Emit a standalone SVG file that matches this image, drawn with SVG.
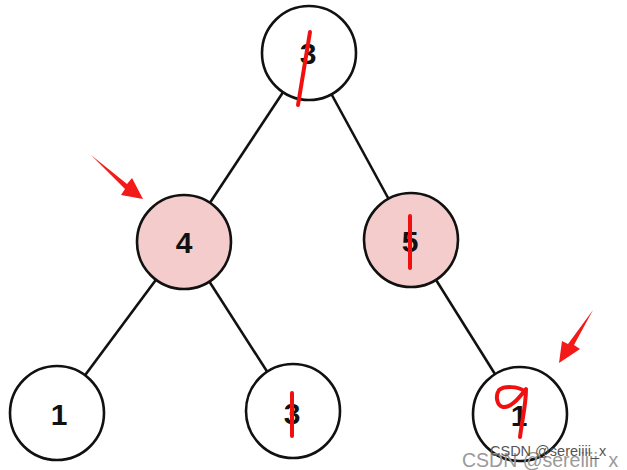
<svg xmlns="http://www.w3.org/2000/svg" width="627" height="470" viewBox="0 0 627 470">
<style>
.edge{stroke:#111;stroke-width:2.6;fill:none}
.node{stroke:#111;stroke-width:2.6;fill:#fff}
.hl{fill:#f4cccc}
.lbl{font-family:"Liberation Sans",Arial,sans-serif;font-weight:bold;font-size:30px;fill:#111;text-anchor:middle}
.red{stroke:#f01010;stroke-width:4;stroke-linecap:round;stroke-linejoin:round;fill:none}
.arrow{fill:#f51a1a}
</style>
<rect width="627" height="470" fill="#fff"/>
<g id="connectors">
<line class="edge" x1="309" y1="53" x2="184" y2="242"/>
<line class="edge" x1="309" y1="53" x2="411" y2="240"/>
<line class="edge" x1="184" y1="242" x2="57" y2="413"/>
<line class="edge" x1="184" y1="242" x2="293" y2="412"/>
<line class="edge" x1="411" y1="240" x2="520" y2="414"/>
</g>
<g id="n3root"><circle class="node" cx="309" cy="53" r="47"/><text class="lbl" x="308" y="64">3</text></g>
<g id="n4"><circle class="node hl" cx="184" cy="242" r="47"/><text class="lbl" x="184" y="253">4</text></g>
<g id="n5"><circle class="node hl" cx="411" cy="240" r="47"/><text class="lbl" x="410" y="252">5</text></g>
<g id="n1a"><circle class="node" cx="57" cy="413" r="47"/><text class="lbl" x="59" y="425">1</text></g>
<g id="n3b"><circle class="node" cx="293" cy="411" r="47"/><text class="lbl" x="292" y="424">3</text></g>
<g id="n1b"><circle class="node" cx="520" cy="414" r="47"/><text class="lbl" x="519" y="426">1</text></g>
<g id="marks">
<path class="red" d="M310 32 L298 105"/>
<path class="red" d="M410 216 L410 268"/>
<path class="red" d="M292 393 L292 436"/>
<path class="red" d="M524 391 C518 386 504 386 499 390 C495 396 497 406 503 407 C511 408 518 399 526 389 C526 405 522 420 520 437"/>
<polygon class="arrow" points="91,155 127,184 132,178 143,199 121,195 125,189"/>
<polygon class="arrow" points="593,310 574,345 580,349 559,363 562,341 568,344"/>
</g>
<g id="watermark" font-family="'Liberation Sans',Arial,sans-serif">
<text x="462" y="467" font-size="19.5" fill="#9a9a9a">CSDN @sereiiii_x</text>
<text x="490" y="456" font-size="14.5" fill="#555">CSDN @sereiiii_x</text>
</g>
</svg>
